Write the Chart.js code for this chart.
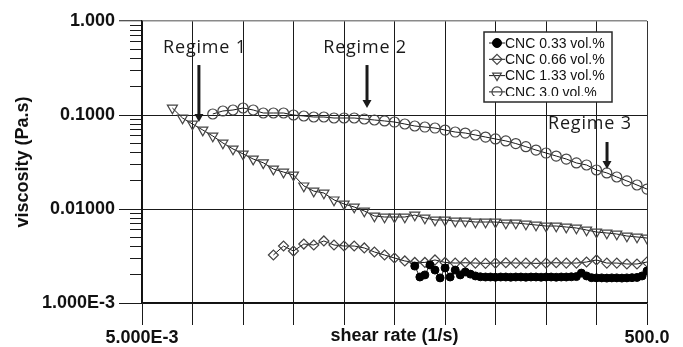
<!DOCTYPE html>
<html><head><meta charset="utf-8">
<script src="https://cdn.jsdelivr.net/npm/chart.js"></script>
<style>html,body{margin:0;padding:0;background:#fff}</style>
</head><body>
<canvas id="c" width="683" height="347"></canvas>
<script>
// ---- data ----
const rate10 = [0.01, 0.0126, 0.0158, 0.02, 0.0251, 0.0316, 0.0398, 0.0501, 0.0631, 0.0794,
  0.1, 0.126, 0.158, 0.2, 0.251, 0.316, 0.398, 0.501, 0.631, 0.794,
  1, 1.26, 1.58, 2, 2.51, 3.16, 3.98, 5.01, 6.31, 7.94,
  10, 12.6, 15.8, 20, 25.1, 31.6, 39.8, 50.1, 63.1, 79.4,
  100, 126, 158, 200, 251, 316, 398, 500];
const rate20 = [2.51, 2.82, 3.16, 3.55, 3.98, 4.47, 5.01, 5.62, 6.31, 7.08, 7.94, 8.91,
  10, 11.2, 12.6, 14.1, 15.8, 17.8, 20, 22.4, 25.1, 28.2, 31.6, 35.5, 39.8, 44.7, 50.1, 56.2, 63.1, 70.8, 79.4, 89.1,
  100, 112, 126, 141, 158, 178, 200, 224, 251, 282, 316, 355, 398, 447, 500];
const cnc033 = [0.00247, 0.00189, 0.00199, 0.00254, 0.00224, 0.00185, 0.00236, 0.00189, 0.00224, 0.00199,
  0.00214, 0.00203, 0.00194, 0.00190, 0.00189,
  0.00189, 0.00188, 0.00189, 0.00189, 0.00188, 0.00189, 0.00189, 0.00188, 0.00189, 0.00189,
  0.00188, 0.00189, 0.00189, 0.00188, 0.00189, 0.00189, 0.00190, 0.00191,
  0.00208, 0.00194,
  0.00186, 0.00185, 0.00185, 0.00184, 0.00185, 0.00185, 0.00184, 0.00185, 0.00186, 0.00187,
  0.00194, 0.00219];
const cnc066 = [0.00324, 0.00404, 0.00357, 0.00424, 0.00414, 0.00457, 0.00414, 0.00404, 0.00404, 0.00385,
  0.00349, 0.00324, 0.00301, 0.00280, 0.00270, 0.00270, 0.00287, 0.00270,
  0.00266, 0.00268, 0.00266, 0.00264, 0.00266, 0.00268, 0.00266, 0.00266, 0.00264, 0.00266, 0.00268, 0.00266, 0.00266,
  0.00273, 0.00287, 0.00266, 0.00266, 0.00260, 0.00260, 0.00273];
const cnc133 = [0.1187, 0.0929, 0.0802, 0.0692, 0.0598, 0.0504, 0.0435, 0.0385, 0.0340, 0.0310,
  0.0266, 0.0247, 0.0230, 0.0176, 0.0155, 0.0148, 0.0125, 0.0113, 0.0105, 0.00952,
  0.00842, 0.00822, 0.00822, 0.00822, 0.00863, 0.00802, 0.00764, 0.00764, 0.00745, 0.00745,
  0.00727, 0.00727, 0.00727, 0.00710, 0.00710, 0.00693, 0.00676, 0.00659, 0.00659, 0.00643,
  0.00628, 0.00598, 0.00569, 0.00556, 0.00542, 0.00516, 0.00504, 0.00491];
const cnc30 = [0.1025, 0.1103, 0.1130, 0.1187, 0.1130, 0.1050, 0.1050, 0.1050, 0.1000, 0.0976,
  0.0952, 0.0952, 0.0929, 0.0929, 0.0929, 0.0907, 0.0885, 0.0864, 0.0842, 0.0802,
  0.0764, 0.0745, 0.0727, 0.0692, 0.0659, 0.0643, 0.0613, 0.0583, 0.0556, 0.0530,
  0.0497, 0.0460, 0.0424, 0.0394, 0.0366, 0.0340, 0.0309, 0.0294, 0.0260, 0.0242,
  0.0219, 0.0199, 0.0180, 0.0163];
const seriesNames = ['CNC 0.33 vol.%', 'CNC 0.66 vol.%', 'CNC 1.33 vol.%', 'CNC 3.0 vol.%'];
const xTickValues = [0.005, 0.01581, 0.05, 0.1581, 0.5, 1.581, 5, 15.81, 50, 158.1, 500];
const xTickLabels = ['5.000E-3', '', '', '', '', '', '', '', '', '', '500.0'];
const yMajorValues = [0.001, 0.01, 0.1, 1];
const yMajorLabels = ['1.000E-3', '0.01000', '0.1000', '1.000'];
const yMinorFactors = [2, 3, 4, 5, 6, 7, 8, 9];
const xTitle = 'shear rate (1/s)';
const yTitle = 'viscosity (Pa.s)';
const regimeLabels = ['Regime 1', 'Regime 2', 'Regime 3'];
const regimeTextAt = [[0.0210, 0.457], [0.808, 0.457], [136, 0.071]];
const regimeArrowX = [0.0183, 0.845, 201];
const regimeArrowY = [[0.34, 0.0842], [0.34, 0.119], [0.0516, 0.0266]];

// ---- build ----
const FONT = '"Liberation Sans", Arial, Helvetica, sans-serif';
const pts = (xs, ys, off) => ys.map((v, i) => ({x: xs[i + off], y: v}));
const yTickValues = [];
yMajorValues.forEach((d, i) => {
  yTickValues.push(d);
  if (i < yMajorValues.length - 1) yMinorFactors.forEach(f => yTickValues.push(+(d * f).toPrecision(3)));
});
const isMajorY = v => yMajorValues.some(m => Math.abs(Math.log10(v) - Math.log10(m)) < 1e-6);

const styles = [
  {pointStyle: 'circle', radius: 4, rot: 0, fill: '#000', stroke: '#000', bw: 1},
  {pointStyle: 'rectRot', radius: 5, rot: 0, fill: 'rgba(0,0,0,0)', stroke: '#444', bw: 1.2},
  {pointStyle: 'triangle', radius: 5.8, rot: 180, fill: 'rgba(0,0,0,0)', stroke: '#444', bw: 1.2},
  {pointStyle: 'circle', radius: 5, rot: 0, fill: 'rgba(0,0,0,0)', stroke: '#444', bw: 1.2}
];
const seriesData = [pts(rate20, cnc033, 0), pts(rate10, cnc066, 10), pts(rate10, cnc133, 0), pts(rate10, cnc30, 4)];

const datasets = seriesData.map((d, i) => ({
  label: seriesNames[i], data: d, showLine: true,
  borderColor: '#1a1a1a', borderWidth: 1,
  pointStyle: styles[i].pointStyle, pointRadius: styles[i].radius, pointRotation: styles[i].rot,
  pointBackgroundColor: styles[i].fill, pointBorderColor: styles[i].stroke, pointBorderWidth: styles[i].bw,
  pointHoverRadius: styles[i].radius
}));

function drawMarker(ctx, s, x, y, r) {
  ctx.save();
  ctx.fillStyle = s.fill; ctx.strokeStyle = s.stroke; ctx.lineWidth = s.bw;
  ctx.beginPath();
  if (s.pointStyle === 'circle') ctx.arc(x, y, r, 0, Math.PI * 2);
  else if (s.pointStyle === 'rectRot') { ctx.moveTo(x, y - r); ctx.lineTo(x + r, y); ctx.lineTo(x, y + r); ctx.lineTo(x - r, y); ctx.closePath(); }
  else { const h = r * Math.sin(Math.PI / 3); ctx.moveTo(x, y + r); ctx.lineTo(x + h, y - r / 2); ctx.lineTo(x - h, y - r / 2); ctx.closePath(); }
  ctx.fill(); ctx.stroke();
  ctx.restore();
}

const regimePlugin = {
  id: 'regimes',
  afterDatasetsDraw(chart) {
    const {ctx, scales: {x, y}} = chart;
    ctx.save();
    ctx.fillStyle = '#1a1a1a'; ctx.strokeStyle = '#1a1a1a';
    ctx.font = '18px "Open Sans", sans-serif';
    if ('letterSpacing' in ctx) ctx.letterSpacing = '0.8px';
    ctx.textAlign = 'center'; ctx.textBaseline = 'alphabetic';
    regimeLabels.forEach((t, i) => {
      ctx.fillText(t, x.getPixelForValue(regimeTextAt[i][0]), y.getPixelForValue(regimeTextAt[i][1]));
      const ax = x.getPixelForValue(regimeArrowX[i]);
      const y1 = y.getPixelForValue(regimeArrowY[i][0]);
      const y2 = y.getPixelForValue(regimeArrowY[i][1]);
      ctx.lineWidth = 3;
      ctx.beginPath(); ctx.moveTo(ax, y1); ctx.lineTo(ax, y2 - 6); ctx.stroke();
      ctx.beginPath(); ctx.moveTo(ax - 4.5, y2 - 8); ctx.lineTo(ax + 4.5, y2 - 8); ctx.lineTo(ax, y2); ctx.closePath(); ctx.fill();
    });
    ctx.restore();
  }
};

const legendPlugin = {
  id: 'boxLegend',
  afterDraw(chart) {
    const {ctx, chartArea: a} = chart;
    const L = a.right - 163, T = a.top + 11, W = 128, H = 70;
    ctx.save();
    ctx.fillStyle = '#fff'; ctx.fillRect(L, T, W, H);
    ctx.strokeStyle = '#2a2a2a'; ctx.lineWidth = 1.5; ctx.strokeRect(L, T, W, H);
    ctx.beginPath(); ctx.rect(L + 1, T + 1, W - 2, 63); ctx.clip();
    seriesNames.forEach((name, i) => {
      const yy = T + 11 + i * 16.3;
      ctx.strokeStyle = '#1a1a1a'; ctx.lineWidth = 1;
      ctx.beginPath(); ctx.moveTo(L + 5, yy); ctx.lineTo(L + 21, yy); ctx.stroke();
      drawMarker(ctx, styles[i], L + 13, yy, i === 0 ? 4.5 : 5);
      ctx.fillStyle = '#111'; ctx.font = '14px ' + FONT;
      ctx.textAlign = 'left'; ctx.textBaseline = 'middle';
      ctx.fillText(name, L + 21, yy + 1);
    });
    ctx.restore();
  }
};

new Chart(document.getElementById('c'), {
  type: 'scatter',
  data: {datasets},
  plugins: [regimePlugin, legendPlugin],
  options: {
    responsive: false, animation: false, devicePixelRatio: 1,
    layout: {padding: {left: 0, right: 36, top: 21, bottom: 0}},
    plugins: {legend: {display: false}, tooltip: {enabled: false}},
    scales: {
      x: {
        type: 'logarithmic', position: 'bottom', min: 0.005, max: 500,
        afterBuildTicks: s => { s.ticks = xTickValues.map(v => ({value: v})); },
        afterFit: s => { s.height = 44; },
        ticks: {autoSkip: false, maxRotation: 0, minRotation: 0, padding: 2, color: '#111',
          font: {family: FONT, size: 18, weight: 'bold'},
          callback: (v, i) => xTickLabels[i]},
        grid: {color: c => (c.tick && c.tick.value === 500) ? '#333' : '#1a1a1a', lineWidth: 1,
          tickLength: 22, tickColor: '#1a1a1a', tickWidth: 1},
        border: {display: true, color: '#111', width: 1.5},
        title: {display: true, text: xTitle, color: '#111', font: {family: FONT, size: 18, weight: 'bold'},
          padding: {top: 0, bottom: 0}}
      },
      y: {
        type: 'logarithmic', position: 'left', min: 0.001, max: 1,
        afterBuildTicks: s => { s.ticks = yTickValues.map(v => ({value: v})); },
        afterFit: s => { s.width = 142; },
        ticks: {autoSkip: false, padding: 4, color: '#111',
          font: {family: FONT, size: 18, weight: 'bold'},
          callback: (v) => { const k = yMajorValues.findIndex(m => Math.abs(Math.log10(v) - Math.log10(m)) < 1e-6); return k >= 0 ? yMajorLabels[k] : ''; }},
        grid: {
          color: c => { if (!c.tick) return '#1a1a1a'; if (!isMajorY(c.tick.value)) return 'rgba(0,0,0,0)'; return c.tick.value === 1 ? '#8a8a8a' : '#1a1a1a'; },
          lineWidth: c => (c.tick && c.tick.value === 1) ? 1.5 : 1,
          tickLength: 23, tickColor: '#1a1a1a', tickWidth: 1,
          tickBorderDash: c => (c.tick && !isMajorY(c.tick.value)) ? [0, 11, 12, 40] : []
        },
        border: {display: true, color: '#111', width: 1.5},
        title: {display: true, text: yTitle, color: '#111', font: {family: FONT, size: 18, weight: 'bold'},
          padding: {top: 12, bottom: 0}}
      }
    }
  }
});
</script>
</body></html>
